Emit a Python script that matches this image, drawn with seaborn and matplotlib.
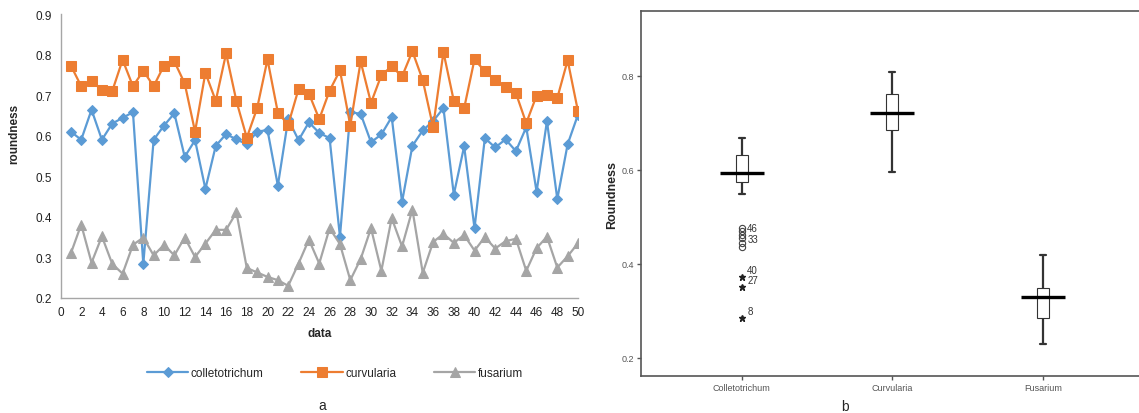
import numpy as np
import pandas as pd
import matplotlib
matplotlib.use("Agg")
import matplotlib.pyplot as plt
import seaborn as sns

# roundness readings, sample 1..50
data_idx = list(range(1, 51))
colletotrichum = [0.610, 0.590, 0.664, 0.590, 0.630, 0.644, 0.658, 0.284, 0.590, 0.625,
                  0.655, 0.548, 0.589, 0.469, 0.575, 0.604, 0.591, 0.579, 0.610, 0.614,
                  0.477, 0.641, 0.589, 0.633, 0.607, 0.594, 0.351, 0.658, 0.654, 0.584,
                  0.603, 0.646, 0.437, 0.575, 0.613, 0.636, 0.668, 0.455, 0.574, 0.372,
                  0.594, 0.571, 0.591, 0.562, 0.621, 0.462, 0.636, 0.444, 0.579, 0.652]
curvularia = [0.773, 0.722, 0.734, 0.713, 0.710, 0.787, 0.722, 0.760, 0.722, 0.773,
              0.783, 0.729, 0.610, 0.755, 0.686, 0.803, 0.685, 0.595, 0.668, 0.788,
              0.657, 0.627, 0.715, 0.704, 0.641, 0.711, 0.761, 0.625, 0.783, 0.681,
              0.749, 0.771, 0.746, 0.808, 0.737, 0.621, 0.806, 0.686, 0.668, 0.788,
              0.759, 0.737, 0.720, 0.705, 0.631, 0.699, 0.701, 0.693, 0.786, 0.660]
fusarium = [0.310, 0.381, 0.287, 0.352, 0.284, 0.260, 0.331, 0.349, 0.305, 0.331,
            0.305, 0.349, 0.301, 0.334, 0.368, 0.368, 0.411, 0.274, 0.263, 0.252,
            0.244, 0.230, 0.285, 0.344, 0.285, 0.372, 0.333, 0.244, 0.296, 0.372,
            0.267, 0.397, 0.327, 0.418, 0.262, 0.338, 0.358, 0.336, 0.355, 0.317,
            0.350, 0.322, 0.340, 0.346, 0.267, 0.323, 0.351, 0.275, 0.303, 0.335]

series_names = ["colletotrichum", "curvularia", "fusarium"]
box_names = ["Colletotrichum", "Curvularia", "Fusarium"]
labelled_outliers = [46, 33, 40, 27, 8]

colors = ["#5B9BD5", "#ED7D31", "#A5A5A5"]

sns.set_style("white")
plt.rcParams['font.family'] = ['Liberation Sans', 'DejaVu Sans']

fig = plt.figure(figsize=(11.39, 4.14), dpi=100)
W, H = 1139, 414

# ---- panel a : line chart ----
ax1 = fig.add_axes([60.5 / W, (H - 299) / H, (578 - 60.5) / W, (299 - 15) / H])
markers = ["D", "s", "^"]
msizes = [5.5, 7, 6.5]
for name, vals, c, m, ms in zip(series_names, [colletotrichum, curvularia, fusarium],
                                colors, markers, msizes):
    sns.lineplot(x=data_idx, y=vals, ax=ax1, color=c, marker=m, markersize=ms,
                 markeredgecolor=c, linewidth=1.6, label=name)

ax1.set_xlim(0, 50)
ax1.set_ylim(0.2, 0.9)
ax1.set_xticks(range(0, 51, 2))
ax1.set_yticks(np.arange(0.2, 0.91, 0.1))
ax1.set_yticklabels([f"{v:.1f}" for v in np.arange(0.2, 0.91, 0.1)])
ax1.tick_params(labelsize=8.5, length=0, pad=6, colors="#222222")
for s in ["top", "right"]:
    ax1.spines[s].set_visible(False)
for s in ["left", "bottom"]:
    ax1.spines[s].set_color("#A6A6A6")
    ax1.spines[s].set_linewidth(1)
ax1.set_xlabel("data", fontweight="bold", fontsize=8.5, labelpad=6)
ax1.set_ylabel("roundness", fontweight="bold", fontsize=8.5, labelpad=8)
ax1.yaxis.set_label_coords(-0.078, 0.58)
ax1.legend(loc="center", bbox_to_anchor=((335 - 60.5) / 517.5, (299 - 374) / 284),
           ncol=3, frameon=False, fontsize=8.5, handlelength=3.5, columnspacing=3.2,
           handletextpad=0.2)
fig.text(322 / W, 1 - 406 / H, "a", ha="center", va="center", fontsize=10)

# ---- panel b : box plot ----
df = pd.DataFrame({
    "fungus": np.repeat(box_names, 50),
    "Roundness": colletotrichum + curvularia + fusarium,
    "idx": data_idx * 3,
})

ax2 = fig.add_axes([640.7 / W, (H - 377.3) / H, (W - 640.7) / W, (377.3 - 12) / H])
sns.boxplot(data=df, x="fungus", y="Roundness", order=box_names, ax=ax2, width=0.08,
            whis=1.5, showfliers=False, color="white", linecolor="#333333", linewidth=0.8,
            whiskerprops={"linewidth": 1.6}, capprops={"linewidth": 1.6},
            medianprops={"linewidth": 0})
for i, g in enumerate(box_names):
    v = df.loc[df.fungus == g, "Roundness"]
    med = v.median()
    ax2.hlines(med, i - 0.145, i + 0.145, color="black", linewidth=2.4, zorder=5)
    # SPSS style: circles beyond 1.5 IQR, stars beyond 3 IQR
    q1, q3 = v.quantile(0.25), v.quantile(0.75)
    iqr = q3 - q1
    sub = df[df.fungus == g]
    mild = sub[((sub.Roundness < q1 - 1.5 * iqr) & (sub.Roundness >= q1 - 3 * iqr)) |
               ((sub.Roundness > q3 + 1.5 * iqr) & (sub.Roundness <= q3 + 3 * iqr))]
    extreme = sub[(sub.Roundness < q1 - 3 * iqr) | (sub.Roundness > q3 + 3 * iqr)]
    ax2.plot([i] * len(mild), mild.Roundness, "o", mfc="none", mec="#444444",
             ms=4.5, mew=0.8, zorder=6)
    ax2.plot([i] * len(extreme), extreme.Roundness, "*", color="#222222",
             ms=5, zorder=6)
    for _, r in pd.concat([mild, extreme]).iterrows():
        if r.idx in labelled_outliers:
            ax2.annotate(str(r.idx), (i, r.Roundness), xytext=(4, 3),
                         textcoords="offset points", fontsize=7, color="#333333")

ax2.set_xlim(-0.671, 2.638)
ax2.set_ylim(0.161, 0.938)
ax2.set_yticks([0.2, 0.4, 0.6, 0.8])
ax2.set_yticklabels(["0.2", "0.4", "0.6", "0.8"])
ax2.set_xlabel("")
ax2.set_ylabel("Roundness", fontweight="bold", fontsize=9, labelpad=2)
ax2.tick_params(axis="both", direction="out", length=3, width=1, colors="#555555",
                labelsize=6.5, pad=2, left=True, bottom=True)
for s in ["left", "bottom", "top"]:
    ax2.spines[s].set_color("#555555")
    ax2.spines[s].set_linewidth(1.2)
ax2.spines["right"].set_visible(False)
fig.text(845 / W, 1 - 407 / H, "b", ha="center", va="center", fontsize=10)

fig.savefig("out.png", dpi=100)
